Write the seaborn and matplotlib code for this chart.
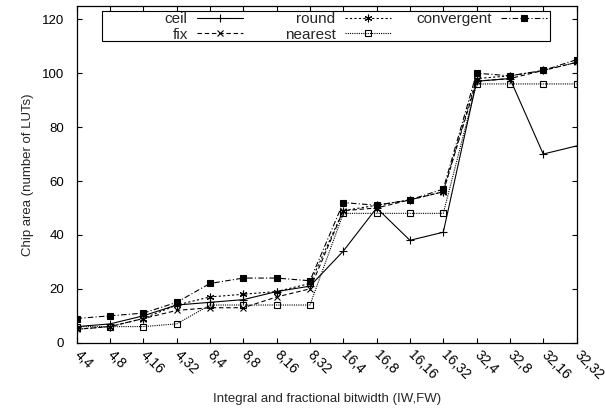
import numpy as np
import pandas as pd
import seaborn as sns
import matplotlib
matplotlib.use("Agg")
import matplotlib.pyplot as plt
from matplotlib.legend import Legend
from matplotlib.patches import Rectangle

# Bitwidth configurations (IW,FW)
CATEGORIES = ["4,4", "4,8", "4,16", "4,32", "8,4", "8,8", "8,16", "8,32",
              "16,4", "16,8", "16,16", "16,32", "32,4", "32,8", "32,16", "32,32"]

# Chip area (number of LUTs) per rounding mode
ceil_vals = [6, 7, 10, 14, 15, 16, 19, 21, 34, 50, 38, 41, 97, 98, 70, 73]
fix_vals = [5, 6, 9, 12, 13, 13, 17, 20, 49, 50, 53, 56, 97, 98, 101, 104]
round_vals = [5, 6, 9, 14, 17, 18, 19, 22, 49, 51, 53, 56, 98, 99, 101, 104]
nearest_vals = [6, 6, 6, 7, 14, 14, 14, 14, 48, 48, 48, 48, 96, 96, 96, 96]
convergent_vals = [9, 10, 11, 15, 22, 24, 24, 23, 52, 51, 53, 57, 100, 99, 101, 105]

# name: (values, linestyle, marker, marker face, marker size)
SERIES = {
    "ceil": (ceil_vals, "-", "+", "black", 5.5),
    "fix": (fix_vals, (0, (4, 2.5)), "x", "black", 5),
    "round": (round_vals, (0, (2, 2)), (6, 2, 0), "black", 5.5),
    "nearest": (nearest_vals, (0, (1, 1)), "s", "none", 4.5),
    "convergent": (convergent_vals, (0, (5, 2, 1, 2)), "s", "black", 5),
}

sns.set_style("ticks")
plt.rcParams["font.family"] = ["Liberation Sans", "DejaVu Sans"]
plt.rcParams["font.size"] = 9.5

fig = plt.figure(figsize=(6.05, 4.11), dpi=100)
ax = fig.add_axes([0.1268, 0.166, 0.953 - 0.1268, 0.986 - 0.166])

x = np.arange(len(CATEGORIES))
for name, (vals, ls, marker, mfc, ms) in SERIES.items():
    sns.lineplot(
        x=x, y=vals, ax=ax, color="black", linestyle=ls, linewidth=0.8,
        marker=marker, markersize=ms, markerfacecolor=mfc,
        markeredgecolor="black", markeredgewidth=0.8, label=name,
    )

ax.set_xlim(0, len(CATEGORIES) - 1)
ax.set_ylim(0, 125)
ax.set_yticks(range(0, 121, 20))
ax.set_xticks(x)
ax.set_xticklabels(CATEGORIES, rotation=-45, ha="left", va="center",
                   rotation_mode="anchor")
ax.tick_params(direction="in", top=True, right=True, length=3.5, width=0.8,
               colors="black")
ax.tick_params(axis="y", pad=9, labelsize=9.5)
ax.tick_params(axis="x", pad=7, labelsize=10)
for sp in ax.spines.values():
    sp.set_linewidth(0.9)
    sp.set_color("black")

ax.set_xlabel("Integral and fractional bitwidth (IW,FW)", fontsize=9.5, labelpad=8)
ax.set_ylabel("Chip area (number of LUTs)", fontsize=9.5, labelpad=6)

# gnuplot-style key: label right-aligned before the sample, 3 columns
handles, labels = ax.get_legend_handles_labels()
ax.get_legend().remove()
lut = dict(zip(labels, handles))
columns = [(["ceil", "fix"], 0.332), (["round", "nearest"], 0.628),
           (["convergent"], 0.94)]
for names, xr in columns:
    leg = Legend(
        ax, [lut[n] for n in names], names, loc="upper right",
        bbox_to_anchor=(xr, 0.981), bbox_transform=ax.transAxes,
        markerfirst=False, frameon=False, borderpad=0, borderaxespad=0,
        labelspacing=0.1, handlelength=3.0, handletextpad=0.6, fontsize=11,
    )
    ax.add_artist(leg)
ax.add_patch(Rectangle((0.051, 0.896), 0.896, 0.088, transform=ax.transAxes,
                       fill=False, edgecolor="black", linewidth=0.8, zorder=5))

fig.savefig("out.png", dpi=100)
